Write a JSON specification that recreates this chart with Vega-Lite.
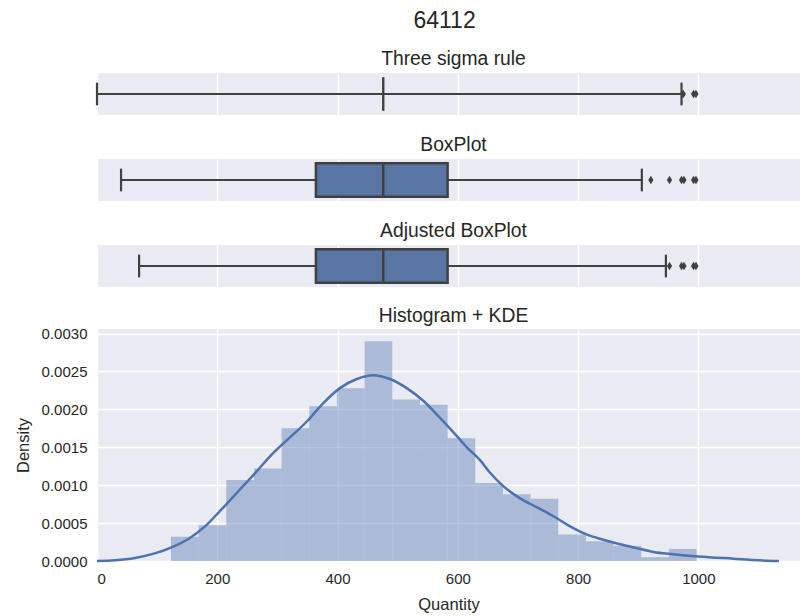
{
  "$schema": "https://vega.github.io/schema/vega-lite/v6.json",
  "padding": {"left": 15, "top": 9, "right": 0, "bottom": 0},
  "background": "white",
  "title": {"text": "64112", "fontSize": 23, "anchor": "middle", "offset": 17, "dx": 37},
  "config": {
    "font": "Liberation Sans",
    "view": {"fill": "#eaeaf2", "stroke": null},
    "axis": {
      "grid": true, "gridColor": "#ffffff", "gridWidth": 1.5, "domain": false, "ticks": false,
      "labelFont": "Liberation Sans", "labelFontSize": 15, "labelColor": "#262626",
      "titleFont": "Liberation Sans", "titleFontSize": 16.5, "titleFontWeight": "normal", "titleColor": "#262626"
    },
    "title": {"font": "Liberation Sans", "fontSize": 19.3, "fontWeight": "normal", "color": "#262626", "baseline": "alphabetic", "offset": 4},
    "concat": {"spacing": 20}
  },
  "datasets": {
    "stats": [
      {"method": "Three sigma rule", "lo": 0, "q1": 476, "med": 476, "q3": 476, "hi": 972},
      {"method": "BoxPlot", "lo": 40, "q1": 364, "med": 476, "q3": 583, "hi": 906},
      {"method": "Adjusted BoxPlot", "lo": 70, "q1": 364, "med": 476, "q3": 583, "hi": 946}
    ],
    "outliers": [
      {"method": "Three sigma rule", "value": 975},
      {"method": "Three sigma rule", "value": 992},
      {"method": "Three sigma rule", "value": 996},
      {"method": "BoxPlot", "value": 921},
      {"method": "BoxPlot", "value": 952},
      {"method": "BoxPlot", "value": 972},
      {"method": "BoxPlot", "value": 976},
      {"method": "BoxPlot", "value": 992},
      {"method": "BoxPlot", "value": 996},
      {"method": "Adjusted BoxPlot", "value": 952},
      {"method": "Adjusted BoxPlot", "value": 972},
      {"method": "Adjusted BoxPlot", "value": 976},
      {"method": "Adjusted BoxPlot", "value": 992},
      {"method": "Adjusted BoxPlot", "value": 996}
    ],
    "hist": [
      {"start": 123, "end": 169, "density": 0.00032},
      {"start": 169, "end": 215, "density": 0.00047},
      {"start": 215, "end": 261, "density": 0.00107},
      {"start": 261, "end": 307, "density": 0.00122},
      {"start": 307, "end": 353, "density": 0.00175},
      {"start": 353, "end": 399, "density": 0.00204},
      {"start": 399, "end": 445, "density": 0.00228},
      {"start": 445, "end": 491, "density": 0.00290},
      {"start": 491, "end": 537, "density": 0.00213},
      {"start": 537, "end": 583, "density": 0.00206},
      {"start": 583, "end": 629, "density": 0.00162},
      {"start": 629, "end": 675, "density": 0.00103},
      {"start": 675, "end": 721, "density": 0.00088},
      {"start": 721, "end": 767, "density": 0.00082},
      {"start": 767, "end": 813, "density": 0.00035},
      {"start": 813, "end": 859, "density": 0.00026},
      {"start": 859, "end": 905, "density": 0.00020},
      {"start": 905, "end": 951, "density": 0.00005},
      {"start": 951, "end": 997, "density": 0.00016}
    ],
    "kde": [
      {"q": 0, "d": 0.0},
      {"q": 30, "d": 0.00001},
      {"q": 63, "d": 0.00004},
      {"q": 96, "d": 0.0001},
      {"q": 124, "d": 0.00018},
      {"q": 152, "d": 0.00029},
      {"q": 180, "d": 0.00046},
      {"q": 207, "d": 0.00068},
      {"q": 235, "d": 0.00092},
      {"q": 263, "d": 0.00116},
      {"q": 290, "d": 0.0014},
      {"q": 325, "d": 0.00166},
      {"q": 349, "d": 0.00184},
      {"q": 376, "d": 0.00208},
      {"q": 404, "d": 0.00228},
      {"q": 432, "d": 0.0024},
      {"q": 459, "d": 0.00245},
      {"q": 487, "d": 0.0024},
      {"q": 515, "d": 0.00228},
      {"q": 543, "d": 0.00211},
      {"q": 570, "d": 0.00189},
      {"q": 598, "d": 0.00165},
      {"q": 615, "d": 0.0015},
      {"q": 637, "d": 0.00133},
      {"q": 653, "d": 0.00117},
      {"q": 675, "d": 0.00099},
      {"q": 703, "d": 0.00083},
      {"q": 731, "d": 0.00071},
      {"q": 759, "d": 0.00059},
      {"q": 786, "d": 0.00046},
      {"q": 814, "d": 0.00035},
      {"q": 842, "d": 0.00028},
      {"q": 870, "d": 0.00022},
      {"q": 897, "d": 0.00017},
      {"q": 925, "d": 0.00012},
      {"q": 958, "d": 0.00009},
      {"q": 1000, "d": 0.00006},
      {"q": 1059, "d": 0.00003},
      {"q": 1100, "d": 0.00001},
      {"q": 1134, "d": 0.0}
    ]
  },
  "vconcat": [
    {
      "title": {"text": "Three sigma rule", "dx": 5},
      "width": 703, "height": 42,
      "layer": [
        {
          "data": {"name": "stats"},
          "transform": [{"filter": "datum.method === 'Three sigma rule'"}],
          "mark": {"type": "rule", "color": "#404040", "strokeWidth": 2.2},
          "encoding": {
            "x": {"field": "lo", "type": "quantitative", "scale": {"domain": [0, 1169], "nice": false, "zero": false}, "axis": {"labels": false, "title": null, "values": [0, 200, 400, 600, 800, 1000]}},
            "x2": {"field": "hi"},
            "y": {"datum": 0.5, "type": "quantitative", "scale": {"domain": [0, 1], "nice": false}, "axis": null}
          }
        },
        {
          "data": {"name": "stats"},
          "transform": [{"filter": "datum.method === 'Three sigma rule'"}],
          "mark": {"type": "rule", "color": "#404040", "strokeWidth": 2.2},
          "encoding": {
            "x": {"field": "lo", "type": "quantitative", "axis": {"labels": false, "title": null, "values": [0, 200, 400, 600, 800, 1000]}},
            "y": {"datum": 0.23, "type": "quantitative"},
            "y2": {"datum": 0.77}
          }
        },
        {
          "data": {"name": "stats"},
          "transform": [{"filter": "datum.method === 'Three sigma rule'"}],
          "mark": {"type": "rule", "color": "#404040", "strokeWidth": 2.2},
          "encoding": {
            "x": {"field": "hi", "type": "quantitative", "axis": {"labels": false, "title": null, "values": [0, 200, 400, 600, 800, 1000]}},
            "y": {"datum": 0.23, "type": "quantitative"},
            "y2": {"datum": 0.77}
          }
        },
        {
          "data": {"name": "stats"},
          "transform": [{"filter": "datum.method === 'Three sigma rule'"}],
          "mark": {"type": "rule", "color": "#404040", "strokeWidth": 2.4},
          "encoding": {
            "x": {"field": "med", "type": "quantitative", "axis": {"labels": false, "title": null, "values": [0, 200, 400, 600, 800, 1000]}},
            "y": {"datum": 0.1, "type": "quantitative"},
            "y2": {"datum": 0.9}
          }
        },
        {
          "data": {"name": "outliers"},
          "transform": [{"filter": "datum.method === 'Three sigma rule'"}],
          "mark": {"type": "point", "shape": "M0,-1L0.6,0L0,1L-0.6,0Z", "filled": true, "color": "#404040", "opacity": 1, "size": 75},
          "encoding": {
            "x": {"field": "value", "type": "quantitative", "axis": {"labels": false, "title": null, "values": [0, 200, 400, 600, 800, 1000]}},
            "y": {"datum": 0.5, "type": "quantitative"}
          }
        }
      ]
    },
    {
      "title": {"text": "BoxPlot", "dx": 5},
      "width": 703, "height": 42,
      "layer": [
        {
          "data": {"name": "stats"},
          "transform": [{"filter": "datum.method === 'BoxPlot'"}],
          "mark": {"type": "rule", "color": "#404040", "strokeWidth": 2.2},
          "encoding": {
            "x": {"field": "lo", "type": "quantitative", "scale": {"domain": [0, 1169], "nice": false, "zero": false}, "axis": {"labels": false, "title": null, "values": [0, 200, 400, 600, 800, 1000]}},
            "x2": {"field": "hi"},
            "y": {"datum": 0.5, "type": "quantitative", "scale": {"domain": [0, 1], "nice": false}, "axis": null}
          }
        },
        {
          "data": {"name": "stats"},
          "transform": [{"filter": "datum.method === 'BoxPlot'"}],
          "mark": {"type": "rule", "color": "#404040", "strokeWidth": 2.2},
          "encoding": {
            "x": {"field": "lo", "type": "quantitative", "axis": {"labels": false, "title": null, "values": [0, 200, 400, 600, 800, 1000]}},
            "y": {"datum": 0.23, "type": "quantitative"},
            "y2": {"datum": 0.77}
          }
        },
        {
          "data": {"name": "stats"},
          "transform": [{"filter": "datum.method === 'BoxPlot'"}],
          "mark": {"type": "rule", "color": "#404040", "strokeWidth": 2.2},
          "encoding": {
            "x": {"field": "hi", "type": "quantitative", "axis": {"labels": false, "title": null, "values": [0, 200, 400, 600, 800, 1000]}},
            "y": {"datum": 0.23, "type": "quantitative"},
            "y2": {"datum": 0.77}
          }
        },
        {
          "data": {"name": "stats"},
          "transform": [{"filter": "datum.method === 'BoxPlot'"}],
          "mark": {"type": "rect", "fill": "#5975a4", "stroke": "#404040", "strokeWidth": 2.5},
          "encoding": {
            "x": {"field": "q1", "type": "quantitative", "axis": {"labels": false, "title": null, "values": [0, 200, 400, 600, 800, 1000]}},
            "x2": {"field": "q3"},
            "y": {"datum": 0.1, "type": "quantitative"},
            "y2": {"datum": 0.9}
          }
        },
        {
          "data": {"name": "stats"},
          "transform": [{"filter": "datum.method === 'BoxPlot'"}],
          "mark": {"type": "rule", "color": "#404040", "strokeWidth": 2.5},
          "encoding": {
            "x": {"field": "med", "type": "quantitative", "axis": {"labels": false, "title": null, "values": [0, 200, 400, 600, 800, 1000]}},
            "y": {"datum": 0.1, "type": "quantitative"},
            "y2": {"datum": 0.9}
          }
        },
        {
          "data": {"name": "outliers"},
          "transform": [{"filter": "datum.method === 'BoxPlot'"}],
          "mark": {"type": "point", "shape": "M0,-1L0.6,0L0,1L-0.6,0Z", "filled": true, "color": "#404040", "opacity": 1, "size": 75},
          "encoding": {
            "x": {"field": "value", "type": "quantitative", "axis": {"labels": false, "title": null, "values": [0, 200, 400, 600, 800, 1000]}},
            "y": {"datum": 0.5, "type": "quantitative"}
          }
        }
      ]
    },
    {
      "title": {"text": "Adjusted BoxPlot", "dx": 5},
      "width": 703, "height": 42,
      "layer": [
        {
          "data": {"name": "stats"},
          "transform": [{"filter": "datum.method === 'Adjusted BoxPlot'"}],
          "mark": {"type": "rule", "color": "#404040", "strokeWidth": 2.2},
          "encoding": {
            "x": {"field": "lo", "type": "quantitative", "scale": {"domain": [0, 1169], "nice": false, "zero": false}, "axis": {"labels": false, "title": null, "values": [0, 200, 400, 600, 800, 1000]}},
            "x2": {"field": "hi"},
            "y": {"datum": 0.5, "type": "quantitative", "scale": {"domain": [0, 1], "nice": false}, "axis": null}
          }
        },
        {
          "data": {"name": "stats"},
          "transform": [{"filter": "datum.method === 'Adjusted BoxPlot'"}],
          "mark": {"type": "rule", "color": "#404040", "strokeWidth": 2.2},
          "encoding": {
            "x": {"field": "lo", "type": "quantitative", "axis": {"labels": false, "title": null, "values": [0, 200, 400, 600, 800, 1000]}},
            "y": {"datum": 0.23, "type": "quantitative"},
            "y2": {"datum": 0.77}
          }
        },
        {
          "data": {"name": "stats"},
          "transform": [{"filter": "datum.method === 'Adjusted BoxPlot'"}],
          "mark": {"type": "rule", "color": "#404040", "strokeWidth": 2.2},
          "encoding": {
            "x": {"field": "hi", "type": "quantitative", "axis": {"labels": false, "title": null, "values": [0, 200, 400, 600, 800, 1000]}},
            "y": {"datum": 0.23, "type": "quantitative"},
            "y2": {"datum": 0.77}
          }
        },
        {
          "data": {"name": "stats"},
          "transform": [{"filter": "datum.method === 'Adjusted BoxPlot'"}],
          "mark": {"type": "rect", "fill": "#5975a4", "stroke": "#404040", "strokeWidth": 2.5},
          "encoding": {
            "x": {"field": "q1", "type": "quantitative", "axis": {"labels": false, "title": null, "values": [0, 200, 400, 600, 800, 1000]}},
            "x2": {"field": "q3"},
            "y": {"datum": 0.1, "type": "quantitative"},
            "y2": {"datum": 0.9}
          }
        },
        {
          "data": {"name": "stats"},
          "transform": [{"filter": "datum.method === 'Adjusted BoxPlot'"}],
          "mark": {"type": "rule", "color": "#404040", "strokeWidth": 2.5},
          "encoding": {
            "x": {"field": "med", "type": "quantitative", "axis": {"labels": false, "title": null, "values": [0, 200, 400, 600, 800, 1000]}},
            "y": {"datum": 0.1, "type": "quantitative"},
            "y2": {"datum": 0.9}
          }
        },
        {
          "data": {"name": "outliers"},
          "transform": [{"filter": "datum.method === 'Adjusted BoxPlot'"}],
          "mark": {"type": "point", "shape": "M0,-1L0.6,0L0,1L-0.6,0Z", "filled": true, "color": "#404040", "opacity": 1, "size": 75},
          "encoding": {
            "x": {"field": "value", "type": "quantitative", "axis": {"labels": false, "title": null, "values": [0, 200, 400, 600, 800, 1000]}},
            "y": {"datum": 0.5, "type": "quantitative"}
          }
        }
      ]
    },
    {
      "title": {"text": "Histogram + KDE", "dx": 5, "offset": 0},
      "width": 703, "height": 232,
      "layer": [
        {
          "data": {"name": "hist"},
          "mark": {"type": "rect", "color": "#4c72b0", "opacity": 0.4},
          "encoding": {
            "x": {"field": "start", "type": "quantitative", "scale": {"domain": [0, 1169], "nice": false, "zero": false}, "axis": {"title": "Quantity", "values": [0, 200, 400, 600, 800, 1000], "format": "d", "labelPadding": 10, "titlePadding": 10}},
            "x2": {"field": "end"},
            "y": {"field": "density", "type": "quantitative", "scale": {"domain": [0, 0.00306], "nice": false}, "axis": {"title": "Density", "values": [0, 0.0005, 0.001, 0.0015, 0.002, 0.0025, 0.003], "format": ".4f", "labelPadding": 10, "titlePadding": 10}},
            "y2": {"datum": 0}
          }
        },
        {
          "data": {"name": "kde"},
          "mark": {"type": "line", "color": "#4c72b0", "strokeWidth": 2.5, "interpolate": "monotone"},
          "encoding": {
            "x": {"field": "q", "type": "quantitative", "axis": {"title": "Quantity", "values": [0, 200, 400, 600, 800, 1000], "format": "d", "labelPadding": 10, "titlePadding": 10}},
            "y": {"field": "d", "type": "quantitative", "axis": {"title": "Density", "values": [0, 0.0005, 0.001, 0.0015, 0.002, 0.0025, 0.003], "format": ".4f", "labelPadding": 10, "titlePadding": 10}}
          }
        }
      ]
    }
  ]
}
